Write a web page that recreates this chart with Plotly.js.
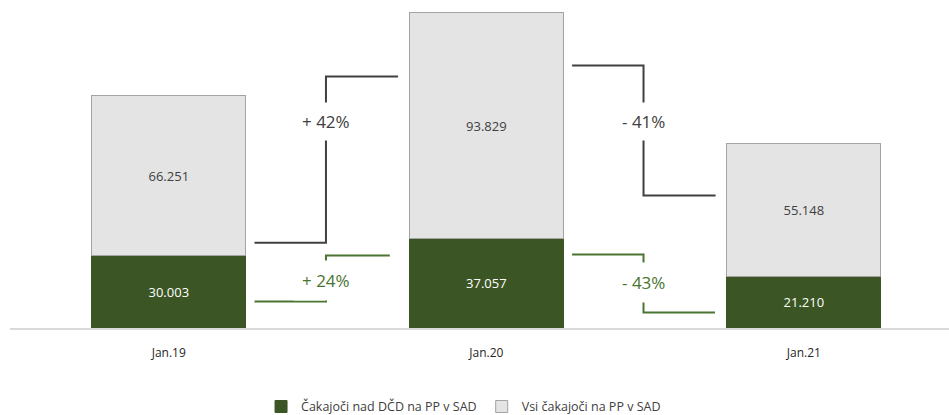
<!DOCTYPE html>
<html>
<head>
<meta charset="utf-8">
<script src="https://cdn.plot.ly/plotly-3.0.1.min.js"></script>
<style>html,body{margin:0;padding:0;background:#fff;}#chart{width:949px;height:415px;}</style>
</head>
<body>
<div id="chart"></div>
<script>
// ---- data ----
const categories = ['Jan.19', 'Jan.20', 'Jan.21'];
const cakajociNadDCD = [30003, 37057, 21210];      // green, bottom segment
const vsiCakajoci = [66251, 93829, 55148];          // grey, top segment
const seriesNames = ['Čakajoči nad DČD na PP v SAD', 'Vsi čakajoči na PP v SAD'];

// change connectors between consecutive periods (levels in data units)
const greyChangeLabels = ['+ 42%', '- 41%'];
const greyFromLevel = [35400, 108900];
const greyToLevel = [104300, 55000];
const greyLabelLevel = [85700, 85700];

const greenChangeLabels = ['+ 24%', '- 43%'];
const greenFromLevel = [11000, 30500];
const greenToLevel = [30100, 6400];
const greenLabelLevel = [19700, 18900];

// ---- styling ----
const GREEN = '#3b5624';
const GREEN_LINE = '#4a7432';
const GREY_FILL = '#e4e4e4';
const GREY_EDGE = '#a3a3a3';
const DARK = '#404040';
const FONT = 'Open Sans, Noto Sans, sans-serif';

const xIdx = categories.map((_, i) => i);

const traces = [
  {
    type: 'bar', x: xIdx, y: cakajociNadDCD, name: seriesNames[0],
    width: 0.485,
    marker: {color: GREEN, line: {color: GREEN, width: 1}},
    texttemplate: '%{y:,.0f}', textposition: 'inside', insidetextanchor: 'middle',
    textfont: {color: '#ffffff', size: 13, family: FONT},
    hoverinfo: 'skip'
  },
  {
    type: 'bar', x: xIdx, y: vsiCakajoci, name: seriesNames[1],
    width: 0.485,
    marker: {color: GREY_FILL, line: {color: GREY_EDGE, width: 1}},
    texttemplate: '%{y:,.0f}', textposition: 'inside', insidetextanchor: 'middle',
    textfont: {color: DARK, size: 13, family: FONT},
    hoverinfo: 'skip'
  }
];

const shapes = [];
const annotations = [];
function connector(i, from, to, color, toOff) {
  const x0 = i + 0.27, xm = i + 0.495, x1 = i + 1 - toOff;
  shapes.push({
    type: 'path', xref: 'x', yref: 'y',
    path: `M ${x0},${from} L ${xm},${from} L ${xm},${to} L ${x1},${to}`,
    line: {color: color, width: 2}, layer: 'above'
  });
}
for (let i = 0; i < greyChangeLabels.length; i++) {
  connector(i, greyFromLevel[i], greyToLevel[i], DARK, 0.278);
  annotations.push({
    x: i + 0.495, y: greyLabelLevel[i], xref: 'x', yref: 'y', text: greyChangeLabels[i],
    showarrow: false, font: {size: 17, color: DARK, family: FONT},
    bgcolor: '#ffffff', borderpad: 7
  });
  connector(i, greenFromLevel[i], greenToLevel[i], GREEN_LINE, i === 0 ? 0.304 : 0.28);
  annotations.push({
    x: i + 0.495, y: greenLabelLevel[i], xref: 'x', yref: 'y', text: greenChangeLabels[i],
    showarrow: false, font: {size: 17, color: GREEN_LINE, family: FONT},
    bgcolor: '#ffffff', borderpad: 8
  });
}

const layout = {
  width: 949, height: 415,
  margin: {l: 10, r: 0, t: 10, b: 87, autoexpand: false},
  barmode: 'stack',
  separators: ',.',
  paper_bgcolor: '#ffffff', plot_bgcolor: '#ffffff',
  font: {family: FONT, color: DARK, size: 12},
  showlegend: true,
  legend: {
    orientation: 'h', x: 0.483, xanchor: 'center', y: -0.248, yanchor: 'middle',
    traceorder: 'normal',
    font: {size: 12.5, color: DARK, family: FONT}, itemwidth: 30
  },
  xaxis: {
    type: 'linear', range: [-0.5, 2.457],
    tickvals: xIdx, ticktext: categories,
    showgrid: false, zeroline: false,
    showline: true, linecolor: '#d9d9d9', linewidth: 1.5,
    ticks: 'outside', ticklen: 13, tickcolor: 'rgba(0,0,0,0)',
    tickfont: {size: 12, color: '#262626', family: FONT}, fixedrange: true
  },
  yaxis: {
    range: [0, 131900], visible: false, showgrid: false, zeroline: false, fixedrange: true
  },
  shapes: shapes,
  annotations: annotations
};

Plotly.newPlot('chart', traces, layout, {displayModeBar: false, staticPlot: true});
</script>
</body>
</html>
